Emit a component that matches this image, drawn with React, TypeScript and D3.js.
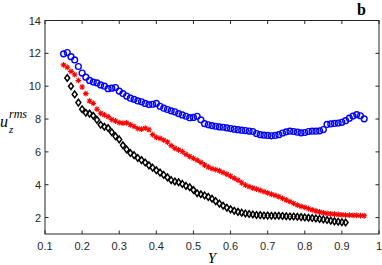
import { useRef, useEffect } from "react";
import * as d3 from "d3";

// Y positions shared by all series (blue/red span 0.15-0.96, black 0.16-0.91)
const yPos = [
  0.15, 0.16, 0.17, 0.18, 0.19, 0.2, 0.21, 0.22, 0.23, 0.24, 0.25, 0.26, 0.27, 0.28, 0.29, 0.3,
  0.31, 0.32, 0.33, 0.34, 0.35, 0.36, 0.37, 0.38, 0.39, 0.4, 0.41, 0.42, 0.43, 0.44, 0.45, 0.46,
  0.47, 0.48, 0.49, 0.5, 0.51, 0.52, 0.53, 0.54, 0.55, 0.56, 0.57, 0.58, 0.59, 0.6, 0.61, 0.62,
  0.63, 0.64, 0.65, 0.66, 0.67, 0.68, 0.69, 0.7, 0.71, 0.72, 0.73, 0.74, 0.75, 0.76, 0.77, 0.78,
  0.79, 0.8, 0.81, 0.82, 0.83, 0.84, 0.85, 0.86, 0.87, 0.88, 0.89, 0.9, 0.91, 0.92, 0.93, 0.94,
  0.95, 0.96,
];

const blueVals = [
  11.97, 12.05, 11.8, 11.6, 11.2, 10.8, 10.55, 10.35, 10.25, 10.2, 10.08, 10.0, 9.85, 9.88, 9.92, 9.7,
  9.55, 9.4, 9.27, 9.2, 9.1, 9.05, 8.95, 8.88, 8.9, 8.95, 8.78, 8.66, 8.58, 8.5, 8.44, 8.33,
  8.25, 8.17, 8.08, 8.1, 8.17, 7.95, 7.72, 7.65, 7.6, 7.56, 7.52, 7.5, 7.46, 7.42, 7.38, 7.35,
  7.32, 7.3, 7.27, 7.24, 7.12, 7.05, 7.02, 7.0, 6.98, 7.0, 7.05, 7.15, 7.22, 7.26, 7.24, 7.2,
  7.16, 7.18, 7.24, 7.26, 7.26, 7.28, 7.36, 7.67, 7.7, 7.73, 7.76, 7.8, 7.9, 8.05, 8.18, 8.27,
  8.2, 8.01,
];

const redVals = [
  11.3, 11.15, 10.9, 10.7, 10.35, 9.95, 9.55, 9.1, 8.95, 8.6, 8.35, 8.25, 8.15, 7.97, 7.88, 7.78,
  7.75, 7.77, 7.65, 7.55, 7.42, 7.38, 7.45, 7.35, 7.05, 6.88, 6.82, 6.72, 6.6, 6.38, 6.22, 6.12,
  6.02, 5.85, 5.72, 5.6, 5.5, 5.36, 5.2, 5.08, 4.98, 4.92, 4.85, 4.74, 4.64, 4.52, 4.4, 4.28,
  4.12, 3.98, 3.88, 3.8, 3.73, 3.66, 3.58, 3.5, 3.42, 3.35, 3.27, 3.17, 3.07, 2.97, 2.86, 2.76,
  2.68, 2.62, 2.55, 2.47, 2.4, 2.34, 2.29, 2.25, 2.23, 2.21, 2.19, 2.17, 2.15, 2.15, 2.14, 2.13,
  2.12, 2.11,
];

// black starts at yPos[1]
const blackVals = [
  10.5, 10.0, 9.5, 9.0, 8.6, 8.38, 8.33, 8.2, 7.95, 7.65, 7.53, 7.45, 7.2, 6.95, 6.76,
  6.4, 6.15, 5.93, 5.8, 5.63, 5.5, 5.35, 5.18, 5.04, 4.88, 4.74, 4.6, 4.45, 4.28, 4.2, 4.15,
  4.05, 3.93, 3.85, 3.68, 3.48, 3.42, 3.35, 3.26, 3.15, 3.0, 2.85, 2.72, 2.6, 2.5, 2.42, 2.35,
  2.3, 2.25, 2.22, 2.19, 2.16, 2.15, 2.13, 2.12, 2.11, 2.11, 2.11, 2.1, 2.08, 2.07, 2.07, 2.05,
  2.03, 2.01, 1.99, 1.97, 1.95, 1.92, 1.89, 1.85, 1.81, 1.77, 1.75, 1.72, 1.7,
];

const xTicks = [0.1, 0.2, 0.3, 0.4, 0.5, 0.6, 0.7, 0.8, 0.9, 1];
const yTicks = [2, 4, 6, 8, 10, 12, 14];

const W = 382;
const H = 265;
const BOX = { left: 45, right: 379, top: 20.5, bottom: 234 };
const AXIS_COLOR = "#262626";
const TICK_FONT = "Liberation Sans, Arial, sans-serif";
const SERIF = "Liberation Serif, Times New Roman, serif";

export default function App() {
  const svgRef = useRef<SVGSVGElement>(null);

  useEffect(() => {
    const svg = d3.select(svgRef.current);
    svg.selectAll("*").remove();

    const x = d3.scaleLinear().domain([0.1, 1]).range([BOX.left, BOX.right]);
    const y = d3.scaleLinear().domain([1, 14]).range([BOX.bottom, BOX.top]);

    svg.append("rect").attr("width", W).attr("height", H).attr("fill", "#fff");

    const plot = svg.append("g");

    // blue circles
    plot
      .selectAll(".blue")
      .data(blueVals)
      .enter()
      .append("circle")
      .attr("cx", (_, i) => x(yPos[i]))
      .attr("cy", (d) => y(d))
      .attr("r", 2.9)
      .attr("fill", "none")
      .attr("stroke", "#0000ff")
      .attr("stroke-width", 1.4);

    // red asterisks
    const star = (s: number) =>
      `M${-s},0L${s},0M0,${-s}L0,${s}M${-s * 0.7},${-s * 0.7}L${s * 0.7},${s * 0.7}M${-s * 0.7},${s * 0.7}L${s * 0.7},${-s * 0.7}`;
    plot
      .selectAll(".red")
      .data(redVals)
      .enter()
      .append("path")
      .attr("transform", (d, i) => `translate(${x(yPos[i])},${y(d)})`)
      .attr("d", star(2.9))
      .attr("fill", "none")
      .attr("stroke", "#ff0000")
      .attr("stroke-width", 1.1);

    // black diamonds
    const diamond = (s: number) => `M0,${-s}L${s * 0.75},0L0,${s}L${-s * 0.75},0Z`;
    plot
      .selectAll(".black")
      .data(blackVals)
      .enter()
      .append("path")
      .attr("transform", (d, i) => `translate(${x(yPos[i + 1])},${y(d)})`)
      .attr("d", diamond(3.3))
      .attr("fill", "none")
      .attr("stroke", "#000")
      .attr("stroke-width", 1.5);

    // box
    svg
      .append("rect")
      .attr("x", BOX.left)
      .attr("y", BOX.top)
      .attr("width", BOX.right - BOX.left)
      .attr("height", BOX.bottom - BOX.top)
      .attr("fill", "none")
      .attr("stroke", AXIS_COLOR)
      .attr("stroke-width", 1);

    // ticks (inward, on all four sides)
    const tl = 3.5;
    xTicks.forEach((t) => {
      svg.append("line")
        .attr("x1", x(t)).attr("x2", x(t))
        .attr("y1", BOX.bottom).attr("y2", BOX.bottom - tl)
        .attr("stroke", AXIS_COLOR);
      svg.append("line")
        .attr("x1", x(t)).attr("x2", x(t))
        .attr("y1", BOX.top).attr("y2", BOX.top + tl)
        .attr("stroke", AXIS_COLOR);
      svg.append("text")
        .attr("x", x(t))
        .attr("y", 250)
        .attr("text-anchor", "middle")
        .attr("fill", AXIS_COLOR)
        .attr("font-size", "11px")
        .attr("font-family", TICK_FONT)
        .text(String(t));
    });
    yTicks.forEach((t) => {
      svg.append("line")
        .attr("x1", BOX.left).attr("x2", BOX.left + tl)
        .attr("y1", y(t)).attr("y2", y(t))
        .attr("stroke", AXIS_COLOR);
      svg.append("line")
        .attr("x1", BOX.right).attr("x2", BOX.right - tl)
        .attr("y1", y(t)).attr("y2", y(t))
        .attr("stroke", AXIS_COLOR);
      svg.append("text")
        .attr("x", 41)
        .attr("y", y(t) + 4)
        .attr("text-anchor", "end")
        .attr("fill", AXIS_COLOR)
        .attr("font-size", "11px")
        .attr("font-family", TICK_FONT)
        .text(String(t));
    });

    // axis labels
    svg.append("text")
      .attr("x", 212)
      .attr("y", 263)
      .attr("text-anchor", "middle")
      .attr("font-size", "15px")
      .attr("font-style", "italic")
      .attr("font-family", SERIF)
      .attr("fill", "#000")
      .text("Y");

    const yl = svg.append("text")
      .attr("x", 0)
      .attr("y", 127)
      .attr("font-family", SERIF)
      .attr("font-style", "italic")
      .attr("fill", "#000");
    yl.append("tspan").attr("font-size", "16px").text("u");
    yl.append("tspan").attr("font-size", "12px").attr("dy", -9).attr("dx", 1).text("rms");
    svg.append("text")
      .attr("x", 9)
      .attr("y", 133)
      .attr("font-family", SERIF)
      .attr("font-style", "italic")
      .attr("font-size", "11px")
      .attr("fill", "#000")
      .text("z");

    svg.append("text")
      .attr("x", 357)
      .attr("y", 15)
      .attr("font-family", SERIF)
      .attr("font-weight", "bold")
      .attr("font-size", "16px")
      .attr("fill", "#000")
      .text("b");
  }, []);

  return (
    <svg
      ref={svgRef}
      width={W}
      height={H}
      style={{ position: "absolute", left: 0, top: 0, display: "block" }}
    />
  );
}
